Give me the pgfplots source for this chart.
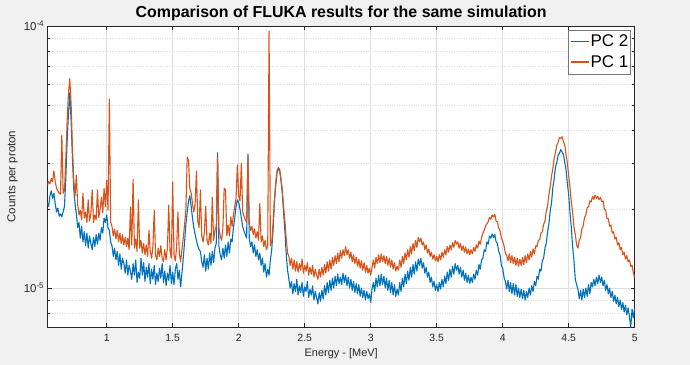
\documentclass[border=0pt]{standalone}
\usepackage{fontspec}
\setmainfont{Liberation Sans}
\usepackage{pgfplots}
\pgfplotsset{compat=1.18}
\usepackage{pgfplotstable}
\definecolor{mblue}{RGB}{0,114,189}
\definecolor{morange}{RGB}{217,83,25}
\definecolor{figbg}{RGB}{240,240,240}
\definecolor{axcol}{RGB}{38,38,38}
\definecolor{gridcol}{RGB}{222,222,222}
\definecolor{legcol}{RGB}{120,120,120}

\pgfplotstableread{
E b o
0.55 2.12e-5 2.45e-5
0.56 2.05e-5 2.55e-5
0.57 2.25e-5 2.50e-5
0.58 2.35e-5 2.62e-5
0.59 2.20e-5 2.55e-5
0.60 2.30e-5 2.80e-5
0.61 2.10e-5 2.55e-5
0.62 1.95e-5 2.40e-5
0.63 2.02e-5 2.35e-5
0.64 1.88e-5 2.30e-5
0.65 1.92e-5 2.28e-5
0.66 1.87e-5 3.84e-5
0.67 1.95e-5 2.30e-5
0.68 2.05e-5 2.35e-5
0.69 2.60e-5 3.10e-5
0.70 3.60e-5 4.30e-5
0.71 4.60e-5 5.50e-5
0.72 5.55e-5 6.30e-5
0.73 4.40e-5 5.10e-5
0.74 3.20e-5 3.50e-5
0.75 2.40e-5 2.60e-5
0.76 2.10e-5 2.25e-5
0.77 1.92e-5 2.70e-5
0.78 1.70e-5 2.08e-5
0.79 1.78e-5 1.90e-5
0.80 1.55e-5 1.98e-5
0.81 1.72e-5 1.82e-5
0.82 1.50e-5 2.30e-5
0.83 1.64e-5 1.85e-5
0.84 1.45e-5 1.95e-5
0.85 1.62e-5 1.78e-5
0.86 1.42e-5 2.17e-5
0.87 1.58e-5 1.80e-5
0.88 1.48e-5 1.92e-5
0.89 1.40e-5 2.37e-5
0.90 1.56e-5 1.78e-5
0.91 1.44e-5 1.90e-5
0.92 1.60e-5 1.82e-5
0.93 1.47e-5 2.37e-5
0.94 1.62e-5 1.86e-5
0.95 1.52e-5 2.00e-5
0.96 1.70e-5 2.22e-5
0.97 1.62e-5 1.94e-5
0.98 1.85e-5 2.40e-5
0.99 1.78e-5 2.05e-5
1.00 1.90e-5 2.58e-5
1.01 1.70e-5 1.98e-5
1.02 1.66e-5 5.27e-5
1.03 1.50e-5 1.78e-5
1.04 1.45e-5 1.72e-5
1.05 1.32e-5 1.58e-5
1.06 1.42e-5 1.68e-5
1.07 1.28e-5 1.54e-5
1.08 1.38e-5 1.66e-5
1.09 1.22e-5 1.50e-5
1.10 1.35e-5 1.62e-5
1.11 1.18e-5 1.48e-5
1.12 1.30e-5 1.60e-5
1.13 1.24e-5 1.46e-5
1.14 1.14e-5 1.56e-5
1.15 1.28e-5 1.44e-5
1.16 1.12e-5 1.55e-5
1.17 1.22e-5 1.40e-5
1.18 1.16e-5 2.04e-5
1.19 1.08e-5 1.46e-5
1.20 1.24e-5 2.60e-5
1.21 1.12e-5 1.42e-5
1.22 1.28e-5 1.54e-5
1.23 1.05e-5 1.38e-5
1.24 1.15e-5 2.17e-5
1.25 1.09e-5 1.42e-5
1.26 1.30e-5 1.52e-5
1.27 1.12e-5 1.36e-5
1.28 1.25e-5 1.48e-5
1.29 1.06e-5 1.34e-5
1.30 1.20e-5 1.46e-5
1.31 1.10e-5 1.32e-5
1.32 1.24e-5 1.66e-5
1.33 1.04e-5 1.38e-5
1.34 1.18e-5 1.30e-5
1.35 1.08e-5 1.44e-5
1.36 1.22e-5 1.98e-5
1.37 1.03e-5 1.34e-5
1.38 1.14e-5 1.28e-5
1.39 1.06e-5 1.42e-5
1.40 1.19e-5 1.32e-5
1.41 1.09e-5 1.45e-5
1.42 1.24e-5 1.30e-5
1.43 1.05e-5 1.26e-5
1.44 1.16e-5 1.40e-5
1.45 1.02e-5 1.28e-5
1.46 1.14e-5 1.42e-5
1.47 1.07e-5 2.07e-5
1.48 1.22e-5 1.38e-5
1.49 1.04e-5 1.30e-5
1.50 1.15e-5 2.54e-5
1.51 1.03e-5 1.34e-5
1.52 1.18e-5 1.27e-5
1.53 1.24e-5 1.44e-5
1.54 1.08e-5 1.95e-5
1.55 1.17e-5 1.36e-5
1.56 1.01e-5 1.26e-5
1.57 1.14e-5 1.40e-5
1.58 1.30e-5 1.55e-5
1.59 1.50e-5 1.75e-5
1.60 1.75e-5 2.00e-5
1.61 1.95e-5 3.16e-5
1.62 2.15e-5 3.07e-5
1.63 2.25e-5 2.40e-5
1.64 2.05e-5 2.30e-5
1.65 1.85e-5 2.10e-5
1.66 1.70e-5 1.95e-5
1.67 1.60e-5 2.10e-5
1.68 1.52e-5 2.80e-5
1.69 1.45e-5 1.80e-5
1.70 1.40e-5 1.70e-5
1.71 1.38e-5 2.37e-5
1.72 1.26e-5 1.58e-5
1.73 1.20e-5 1.50e-5
1.74 1.34e-5 1.64e-5
1.75 1.16e-5 2.05e-5
1.76 1.30e-5 1.52e-5
1.77 1.18e-5 1.46e-5
1.78 1.36e-5 1.62e-5
1.79 1.22e-5 1.48e-5
1.80 1.38e-5 2.22e-5
1.81 1.25e-5 1.52e-5
1.82 1.42e-5 1.66e-5
1.83 1.48e-5 1.72e-5
1.84 3.28e-5 3.16e-5
1.85 1.45e-5 1.70e-5
1.86 1.34e-5 1.58e-5
1.87 1.28e-5 1.52e-5
1.88 1.42e-5 1.68e-5
1.89 1.30e-5 2.40e-5
1.90 1.46e-5 2.38e-5
1.91 1.32e-5 1.58e-5
1.92 1.50e-5 1.74e-5
1.93 1.36e-5 1.58e-5
1.94 1.54e-5 1.87e-5
1.95 1.50e-5 1.72e-5
1.96 1.70e-5 1.90e-5
1.97 1.85e-5 2.05e-5
1.98 2.05e-5 2.20e-5
1.99 2.17e-5 2.95e-5
2.00 2.12e-5 2.25e-5
2.01 2.00e-5 2.15e-5
2.02 1.85e-5 3.00e-5
2.03 1.72e-5 1.95e-5
2.04 1.65e-5 1.88e-5
2.05 1.60e-5 1.82e-5
2.06 1.55e-5 1.78e-5
2.07 3.25e-5 3.16e-5
2.08 1.55e-5 1.78e-5
2.09 1.44e-5 1.66e-5
2.10 1.50e-5 1.72e-5
2.11 1.36e-5 1.60e-5
2.12 1.46e-5 1.68e-5
2.13 1.32e-5 1.55e-5
2.14 1.40e-5 1.64e-5
2.15 1.28e-5 1.52e-5
2.16 1.36e-5 2.10e-5
2.17 1.22e-5 1.50e-5
2.18 1.30e-5 1.58e-5
2.19 1.15e-5 1.44e-5
2.20 1.24e-5 1.52e-5
2.21 1.10e-5 1.40e-5
2.22 1.18e-5 1.46e-5
2.23 1.12e-5 9.57e-5
2.24 1.28e-5 1.45e-5
2.25 1.40e-5 1.50e-5
2.26 1.65e-5 1.75e-5
2.27 2.10e-5 2.17e-5
2.28 2.45e-5 2.50e-5
2.29 2.75e-5 2.80e-5
2.30 2.87e-5 2.88e-5
2.31 2.80e-5 2.85e-5
2.32 2.58e-5 2.62e-5
2.33 2.30e-5 2.38e-5
2.34 1.95e-5 2.05e-5
2.35 1.65e-5 1.80e-5
2.36 1.35e-5 1.55e-5
2.37 1.17e-5 1.36e-5
2.38 1.08e-5 1.32e-5
2.39 1.00e-5 1.22e-5
2.40 1.06e-5 1.30e-5
2.41 0.95e-5 1.18e-5
2.42 1.04e-5 1.28e-5
2.43 0.97e-5 1.16e-5
2.44 1.08e-5 1.26e-5
2.45 0.94e-5 1.15e-5
2.46 1.02e-5 1.24e-5
2.47 0.96e-5 1.17e-5
2.48 1.05e-5 1.29e-5
2.49 0.93e-5 1.14e-5
2.50 1.01e-5 1.22e-5
2.51 0.97e-5 1.16e-5
2.52 1.06e-5 1.25e-5
2.53 0.92e-5 1.12e-5
2.54 0.99e-5 1.20e-5
2.55 0.94e-5 1.13e-5
2.56 1.02e-5 1.22e-5
2.57 0.90e-5 1.10e-5
2.58 0.97e-5 1.18e-5
2.59 0.92e-5 1.12e-5
2.60 0.87e-5 1.08e-5
2.61 0.96e-5 1.18e-5
2.62 0.89e-5 1.10e-5
2.63 0.98e-5 1.20e-5
2.64 0.91e-5 1.12e-5
2.65 1.02e-5 1.23e-5
2.66 0.94e-5 1.14e-5
2.67 1.05e-5 1.26e-5
2.68 0.96e-5 1.16e-5
2.69 1.07e-5 1.28e-5
2.70 0.98e-5 1.18e-5
2.71 1.09e-5 1.31e-5
2.72 1.00e-5 1.22e-5
2.73 1.11e-5 1.33e-5
2.74 1.02e-5 1.24e-5
2.75 1.13e-5 1.36e-5
2.76 1.04e-5 1.26e-5
2.77 1.10e-5 1.39e-5
2.78 1.03e-5 1.30e-5
2.79 1.14e-5 1.40e-5
2.80 1.05e-5 1.33e-5
2.81 1.12e-5 1.44e-5
2.82 1.02e-5 1.34e-5
2.83 1.10e-5 1.40e-5
2.84 1.00e-5 1.30e-5
2.85 1.08e-5 1.37e-5
2.86 0.98e-5 1.26e-5
2.87 1.06e-5 1.34e-5
2.88 0.96e-5 1.24e-5
2.89 1.04e-5 1.31e-5
2.90 0.95e-5 1.21e-5
2.91 1.03e-5 1.29e-5
2.92 0.93e-5 1.19e-5
2.93 1.00e-5 1.27e-5
2.94 0.92e-5 1.17e-5
2.95 0.98e-5 1.25e-5
2.96 0.90e-5 1.15e-5
2.97 0.97e-5 1.22e-5
2.98 0.91e-5 1.14e-5
2.99 0.95e-5 1.19e-5
3.00 0.88e-5 1.12e-5
3.01 0.99e-5 1.20e-5
3.02 1.05e-5 1.28e-5
3.03 0.97e-5 1.19e-5
3.04 1.09e-5 1.31e-5
3.05 1.01e-5 1.24e-5
3.06 1.12e-5 1.34e-5
3.07 1.02e-5 1.25e-5
3.08 1.13e-5 1.35e-5
3.09 1.03e-5 1.26e-5
3.10 1.11e-5 1.33e-5
3.11 1.00e-5 1.24e-5
3.12 1.09e-5 1.32e-5
3.13 0.98e-5 1.22e-5
3.14 1.07e-5 1.30e-5
3.15 0.96e-5 1.20e-5
3.16 1.05e-5 1.28e-5
3.17 0.94e-5 1.18e-5
3.18 1.03e-5 1.25e-5
3.19 0.93e-5 1.16e-5
3.20 0.99e-5 1.21e-5
3.21 0.94e-5 1.17e-5
3.22 1.05e-5 1.28e-5
3.23 0.97e-5 1.20e-5
3.24 1.09e-5 1.32e-5
3.25 1.01e-5 1.24e-5
3.26 1.13e-5 1.36e-5
3.27 1.04e-5 1.28e-5
3.28 1.16e-5 1.40e-5
3.29 1.07e-5 1.31e-5
3.30 1.20e-5 1.44e-5
3.31 1.10e-5 1.35e-5
3.32 1.23e-5 1.48e-5
3.33 1.13e-5 1.39e-5
3.34 1.26e-5 1.52e-5
3.35 1.16e-5 1.43e-5
3.36 1.29e-5 1.56e-5
3.37 1.22e-5 1.50e-5
3.38 1.30e-5 1.55e-5
3.39 1.19e-5 1.46e-5
3.40 1.25e-5 1.50e-5
3.41 1.14e-5 1.40e-5
3.42 1.20e-5 1.46e-5
3.43 1.10e-5 1.36e-5
3.44 1.15e-5 1.41e-5
3.45 1.05e-5 1.32e-5
3.46 1.10e-5 1.37e-5
3.47 1.01e-5 1.29e-5
3.48 1.06e-5 1.34e-5
3.49 0.98e-5 1.27e-5
3.50 1.03e-5 1.32e-5
3.51 0.97e-5 1.26e-5
3.52 1.05e-5 1.34e-5
3.53 0.99e-5 1.28e-5
3.54 1.08e-5 1.37e-5
3.55 1.01e-5 1.31e-5
3.56 1.11e-5 1.40e-5
3.57 1.04e-5 1.34e-5
3.58 1.15e-5 1.44e-5
3.59 1.07e-5 1.37e-5
3.60 1.18e-5 1.46e-5
3.61 1.10e-5 1.40e-5
3.62 1.21e-5 1.49e-5
3.63 1.13e-5 1.43e-5
3.64 1.24e-5 1.52e-5
3.65 1.17e-5 1.47e-5
3.66 1.22e-5 1.50e-5
3.67 1.13e-5 1.42e-5
3.68 1.20e-5 1.48e-5
3.69 1.10e-5 1.39e-5
3.70 1.17e-5 1.45e-5
3.71 1.07e-5 1.37e-5
3.72 1.14e-5 1.43e-5
3.73 1.05e-5 1.35e-5
3.74 1.12e-5 1.41e-5
3.75 1.04e-5 1.34e-5
3.76 1.10e-5 1.40e-5
3.77 1.05e-5 1.35e-5
3.78 1.13e-5 1.43e-5
3.79 1.08e-5 1.38e-5
3.80 1.17e-5 1.46e-5
3.81 1.12e-5 1.42e-5
3.82 1.23e-5 1.51e-5
3.83 1.18e-5 1.47e-5
3.84 1.28e-5 1.56e-5
3.85 1.30e-5 1.62e-5
3.86 1.40e-5 1.66e-5
3.87 1.38e-5 1.72e-5
3.88 1.50e-5 1.76e-5
3.89 1.47e-5 1.79e-5
3.90 1.58e-5 1.86e-5
3.91 1.55e-5 1.83e-5
3.92 1.61e-5 1.90e-5
3.93 1.56e-5 1.87e-5
3.94 1.60e-5 1.91e-5
3.95 1.50e-5 1.80e-5
3.96 1.48e-5 1.79e-5
3.97 1.38e-5 1.69e-5
3.98 1.34e-5 1.66e-5
3.99 1.22e-5 1.55e-5
4.00 1.19e-5 1.51e-5
4.01 1.10e-5 1.45e-5
4.02 1.06e-5 1.36e-5
4.03 0.99e-5 1.33e-5
4.04 1.07e-5 1.27e-5
4.05 0.97e-5 1.35e-5
4.06 1.05e-5 1.25e-5
4.07 0.95e-5 1.33e-5
4.08 1.04e-5 1.24e-5
4.09 0.94e-5 1.31e-5
4.10 1.03e-5 1.22e-5
4.11 0.93e-5 1.30e-5
4.12 1.00e-5 1.21e-5
4.13 0.92e-5 1.29e-5
4.14 0.99e-5 1.22e-5
4.15 0.91e-5 1.31e-5
4.16 0.98e-5 1.23e-5
4.17 0.90e-5 1.33e-5
4.18 0.97e-5 1.25e-5
4.19 0.92e-5 1.35e-5
4.20 1.00e-5 1.28e-5
4.21 0.94e-5 1.38e-5
4.22 1.02e-5 1.31e-5
4.23 0.97e-5 1.41e-5
4.24 1.06e-5 1.35e-5
4.25 1.02e-5 1.45e-5
4.26 1.11e-5 1.44e-5
4.27 1.08e-5 1.52e-5
4.28 1.18e-5 1.53e-5
4.29 1.16e-5 1.62e-5
4.30 1.27e-5 1.64e-5
4.31 1.30e-5 1.75e-5
4.32 1.42e-5 1.80e-5
4.33 1.48e-5 1.96e-5
4.34 1.64e-5 2.06e-5
4.35 1.76e-5 2.27e-5
4.36 1.97e-5 2.43e-5
4.37 2.12e-5 2.67e-5
4.38 2.42e-5 2.86e-5
4.39 2.62e-5 3.12e-5
4.40 2.90e-5 3.30e-5
4.41 3.02e-5 3.52e-5
4.42 3.22e-5 3.60e-5
4.43 3.27e-5 3.75e-5
4.44 3.38e-5 3.72e-5
4.45 3.30e-5 3.78e-5
4.46 3.24e-5 3.62e-5
4.47 3.02e-5 3.52e-5
4.48 2.82e-5 3.22e-5
4.49 2.50e-5 3.00e-5
4.50 2.27e-5 2.68e-5
4.51 1.93e-5 2.42e-5
4.52 1.70e-5 2.13e-5
4.53 1.43e-5 1.94e-5
4.54 1.27e-5 1.70e-5
4.55 1.08e-5 1.60e-5
4.56 1.03e-5 1.46e-5
4.57 0.99e-5 1.42e-5
4.58 0.91e-5 1.52e-5
4.59 0.98e-5 1.56e-5
4.60 0.90e-5 1.68e-5
4.61 0.99e-5 1.73e-5
4.62 0.92e-5 1.86e-5
4.63 1.00e-5 1.90e-5
4.64 0.93e-5 2.03e-5
4.65 1.03e-5 2.04e-5
4.66 0.95e-5 2.15e-5
4.67 1.05e-5 2.13e-5
4.68 1.01e-5 2.24e-5
4.69 1.08e-5 2.18e-5
4.70 1.02e-5 2.26e-5
4.71 1.10e-5 2.20e-5
4.72 1.04e-5 2.24e-5
4.73 1.12e-5 2.17e-5
4.74 1.05e-5 2.22e-5
4.75 1.10e-5 2.14e-5
4.76 1.02e-5 2.15e-5
4.77 1.07e-5 2.00e-5
4.78 0.98e-5 1.98e-5
4.79 1.03e-5 1.84e-5
4.80 0.95e-5 1.84e-5
4.81 1.00e-5 1.72e-5
4.82 0.92e-5 1.74e-5
4.83 0.97e-5 1.62e-5
4.84 0.89e-5 1.64e-5
4.85 0.94e-5 1.54e-5
4.86 0.87e-5 1.56e-5
4.87 0.92e-5 1.46e-5
4.88 0.85e-5 1.49e-5
4.89 0.90e-5 1.40e-5
4.90 0.83e-5 1.43e-5
4.91 0.88e-5 1.34e-5
4.92 0.81e-5 1.37e-5
4.93 0.86e-5 1.29e-5
4.94 0.79e-5 1.33e-5
4.95 0.84e-5 1.26e-5
4.96 0.78e-5 1.28e-5
4.97 0.71e-5 1.21e-5
4.98 0.83e-5 1.22e-5
4.99 0.77e-5 1.14e-5
5.00 0.84e-5 1.10e-5
}\spec

\begin{document}
\begin{tikzpicture}
\fill[figbg] (0,0) rectangle (690bp,365bp);
\useasboundingbox (0,0) rectangle (690bp,365bp);
\begin{axis}[
  at={(47.7bp,38bp)}, anchor=south west,
  scale only axis, width=587bp, height=301bp,
  xmin=0.553, xmax=5, ymin=7.1e-6, ymax=1e-4,
  ymode=log,
  axis background/.style={fill=white},
  axis line style={axcol, line width=0.6bp},
  xtick={1,1.5,2,2.5,3,3.5,4,4.5,5},
  xticklabels={1,1.5,2,2.5,3,3.5,4,4.5,5},
  ytick={1e-5,1e-4},
  yticklabels={10\textsuperscript{-5},10\textsuperscript{-4}},
  minor ytick={8e-6,9e-6,2e-5,3e-5,4e-5,5e-5,6e-5,7e-5,8e-5,9e-5},
  tick align=inside,
  major tick length=4bp, minor tick length=2.5bp,
  tick style={axcol, line width=0.5bp},
  xmajorgrids, ymajorgrids, yminorgrids,
  major grid style={gridcol, line width=0.5bp},
  minor grid style={gridcol, dotted, line width=0.6bp},
  xticklabel style={font=\fontsize{10.5}{12}\selectfont, text=axcol, yshift=-4bp},
  yticklabel style={font=\fontsize{11.5}{13}\selectfont, text=axcol},
  xlabel={Energy - [MeV]},
  ylabel={Counts per proton},
  xlabel style={at={(axis description cs:0.5,-0.09)}, anchor=center, font=\fontsize{11}{13}\selectfont, text=axcol},
  ylabel style={at={(axis description cs:-0.06,0.5)}, anchor=center, font=\fontsize{11.5}{13}\selectfont, text=axcol},
  title={Comparison of FLUKA results for the same simulation},
  every axis title/.style={at={(axis description cs:0.5,1)}, anchor=base, yshift=9bp, font=\bfseries\fontsize{16}{18}\selectfont},
  legend style={at={(0.9935,0.987)}, anchor=north east, draw=legcol, fill=white,
    font=\fontsize{17}{20}\selectfont, inner xsep=1.5bp, inner ysep=4bp, row sep=5bp,
    cells={anchor=west}, nodes={inner sep=1bp}},
  legend image code/.code={\draw[#1,line width=1.4bp] (0bp,0bp) -- (18bp,0bp);},
]
\addplot[mblue, line width=1.1bp, line join=round] table[x=E,y=b]{\spec};
\addlegendentry{PC 2}
\addplot[morange, line width=1.1bp, line join=round] table[x=E,y=o]{\spec};
\addlegendentry{PC 1}
\end{axis}
\end{tikzpicture}
\end{document}
